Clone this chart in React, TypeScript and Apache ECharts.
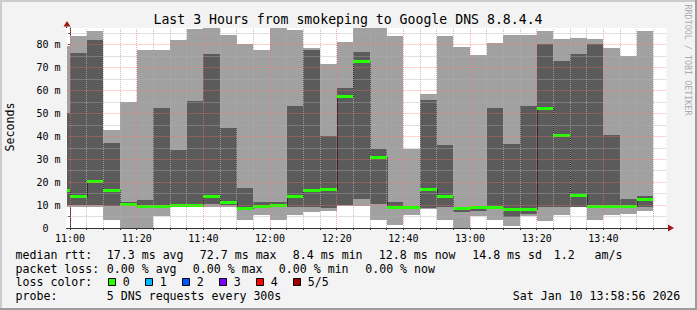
import React, { useEffect, useRef } from "react";
import * as echarts from "echarts";

// ---- data ----
const intervalStart = [
  "10:55", "11:00", "11:05", "11:10", "11:15", "11:20", "11:25", "11:30", "11:35",
  "11:40", "11:45", "11:50", "11:55", "12:00", "12:05", "12:10", "12:15", "12:20",
  "12:25", "12:30", "12:35", "12:40", "12:45", "12:50", "12:55", "13:00", "13:05",
  "13:10", "13:15", "13:20", "13:25", "13:30", "13:35", "13:40", "13:45", "13:50",
];
const pingMin = [
  9.2, 9.0, 9.2, 3.6, 0, 0, 5.1, 9.2, 9.2,
  9.0, 9.0, 3.6, 5.8, 3.6, 5.8, 7.1, 7.4, 9.4,
  9.4, 3.6, 1.4, 5.8, 8.3, 3.6, 0, 5.3, 3.6,
  0.9, 5.3, 3.2, 5.8, 9.1, 3.6, 5.8, 6.2, 7.4,
];
const pingLow = [
  10.2, 10.2, 10.2, 9.7, 9.5, 9.2, 9.2, 9.4, 9.4,
  10.5, 10.0, 8.6, 9.3, 9.0, 9.2, 9.2, 8.7, 10.0,
  12.7, 10.6, 8.7, 8.6, 8.8, 9.2, 7.1, 7.6, 8.5,
  4.6, 6.1, 9.0, 9.0, 9.3, 9.2, 9.2, 9.2, 9.2,
];
const pingHigh = [
  50.2, 76.4, 81.9, 37.1, 11.2, 12.4, 52.4, 34.2, 55.6,
  76.1, 43.6, 17.5, 11.5, 11.2, 53.3, 77.8, 40.0, 61.1,
  76.9, 34.6, 11.2, 9.4, 56.0, 36.4, 9.1, 9.8, 52.4,
  36.8, 53.3, 80.4, 73.0, 76.1, 80.4, 40.7, 12.7, 13.8,
];
const pingMax = [
  79.3, 83.6, 86.1, 42.9, 54.8, 77.8, 77.8, 82.2, 87.0,
  87.3, 84.4, 80.4, 77.8, 87.3, 86.6, 78.5, 71.7, 81.2,
  87.3, 87.3, 83.9, 34.6, 58.6, 83.9, 78.8, 75.3, 80.6,
  84.4, 84.4, 86.1, 82.6, 82.9, 82.5, 78.5, 75.2, 86.1,
];
const medianRtt = [
  16.4, 13.8, 20.6, 16.4, 10.6, 9.8, 9.5, 10.2, 10.2,
  13.8, 11.5, 8.9, 9.7, 10.2, 13.8, 16.6, 17.0, 57.7,
  72.7, 30.8, 9.0, 9.0, 17.1, 13.8, 8.8, 9.0, 9.0,
  8.4, 8.5, 52.3, 40.7, 14.2, 9.7, 9.7, 9.5, 12.8,
];
const stepMinutes = 5;
const windowStart = "10:58:56";
const windowEnd = "13:58:56";
const axisOrigin = "11:00";
const timeTickLabels = ["11:00", "11:20", "11:40", "12:00", "12:20", "12:40", "13:00", "13:20", "13:40"];
const yTickValues = [0, 10, 20, 30, 40, 50, 60, 70, 80];
const yMinorValues = [5, 15, 25, 35, 45, 55, 65, 75, 85];
const yMax = 87.3;

const lossLabels = ["0", "1", "2", "3", "4", "5/5"];
const lossColors = ["#26ff00", "#00b8ff", "#0059ff", "#7e00ff", "#ff0000", "#a10000"];

const titleText = "Last 3 Hours from smokeping to Google DNS 8.8.4.4";
const rttLine = ["median rtt:", "17.3 ms avg", "72.7 ms max", "8.4 ms min", "12.8 ms now", "14.8 ms sd", "1.2", "am/s"];
const lossLine = ["packet loss:", "0.00 % avg", "0.00 % max", "0.00 % min", "0.00 % now"];
const probeLine = ["probe:", "5 DNS requests every 300s"];
const stampText = "Sat Jan 10 13:58:56 2026";

// ---- layout ----
const W = 697;
const H = 310;
const MONO = '"DejaVu Sans Mono", "Liberation Mono", monospace';
const LIGHT = "#a1a1a1";
const DARK = "#5b5b5b";
const rttX = [15.5, 106.8, 199.8, 292.8, 378.8, 472.2, 553.8, 594.5];
const lossX = [15.5, 106.8, 192.8, 278.8, 365.2];
const probeX = [15.5, 106.8];
const boxX = [108.5, 145.5, 182.5, 219.5, 256.5, 293.5];

const toMin = (s: string) => {
  const [h, m, sec] = s.split(":").map(Number);
  const o = axisOrigin.split(":").map(Number);
  return h * 60 + m + (sec || 0) / 60 - (o[0] * 60 + o[1]);
};

export default function App() {
  const ref = useRef<HTMLDivElement>(null);
  useEffect(() => {
    if (!ref.current) return;
    const chart = echarts.init(ref.current, null, { renderer: "svg" });

    const xMin = toMin(windowStart);
    const xMax = toMin(windowEnd);
    const majorX = timeTickLabels.map(toMin);
    const minorX: number[] = [];
    for (let t = 0; t < xMax; t += stepMinutes) if (!majorX.includes(t)) minorX.push(t);

    const data = intervalStart.map((s, i) => [
      toMin(s),
      toMin(s) + stepMinutes,
      pingMin[i],
      pingLow[i],
      pingHigh[i],
      pingMax[i],
      medianRtt[i],
    ]);

    const minorStyle = { color: "rgba(175,175,175,0.75)", width: 1, type: [1, 1] };
    const majorStyle = { color: "rgba(255,110,110,0.6)", width: 1, type: [1, 1] };
    const gridMarks: any[] = [
      ...minorX.map((t) => ({ xAxis: t, lineStyle: minorStyle })),
      ...yMinorValues.map((v) => ({ yAxis: v, lineStyle: minorStyle })),
      ...majorX.map((t) => ({ xAxis: t, lineStyle: majorStyle })),
      ...yTickValues.filter((v) => v > 0).map((v) => ({ yAxis: v, lineStyle: majorStyle })),
    ];

    const renderSmoke = (params: any, api: any) => {
      const cs = params.coordSys;
      const i = params.dataIndex;
      const xs = Math.max(cs.x, api.coord([api.value(0), 0])[0]);
      const xe = Math.min(cs.x + cs.width, api.coord([api.value(1), 0])[0]);
      if (xe <= xs) return null;
      const y = (v: number) => api.coord([api.value(0), v])[1];
      const x0 = Math.round(xs);
      const x1 = Math.round(xe);
      const yMn = Math.round(y(api.value(2)));
      const yLo = Math.round(y(api.value(3)));
      const yHi = Math.round(y(api.value(4)));
      const yMx = Math.round(y(api.value(5)));
      const yMed = Math.round(y(api.value(6))) + 0.5;
      const children: any[] = [
        { type: "rect", shape: { x: x0, y: yLo, width: x1 - x0, height: yMn - yLo }, style: { fill: LIGHT } },
        { type: "rect", shape: { x: x0, y: yHi, width: x1 - x0, height: yLo - yHi }, style: { fill: DARK } },
        { type: "rect", shape: { x: x0, y: yMx, width: x1 - x0, height: yHi - yMx }, style: { fill: LIGHT } },
      ];
      if (i > 0) {
        const yPrev = Math.round(y(medianRtt[i - 1])) + 0.5;
        children.push({
          type: "line",
          shape: { x1: x0 + 0.5, y1: yPrev, x2: x0 + 0.5, y2: yMed },
          style: { stroke: "#000", lineWidth: 1, lineDash: [1, 1] },
        });
      }
      children.push({
        type: "line",
        shape: { x1: x0, y1: yMed, x2: x1, y2: yMed },
        style: { stroke: lossColors[0], lineWidth: 3 },
      });
      return { type: "group", children };
    };

    const txt = (text: string, x: number, y: number, extra: any = {}) => ({
      type: "text",
      x,
      y,
      silent: true,
      style: {
        text,
        fill: "#000",
        font: `11.6px ${MONO}`,
        textAlign: "left",
        textVerticalAlign: "middle",
        ...extra,
      },
    });

    const graphics: any[] = [
      // 3D frame
      { type: "rect", shape: { x: 0, y: 0, width: W, height: 2 }, style: { fill: "#cccccc" }, silent: true },
      { type: "rect", shape: { x: 0, y: 0, width: 2, height: H }, style: { fill: "#cccccc" }, silent: true },
      { type: "rect", shape: { x: W - 2, y: 0, width: 2, height: H }, style: { fill: "#9c9c9c" }, silent: true },
      { type: "rect", shape: { x: 0, y: H - 2, width: W, height: 2 }, style: { fill: "#9c9c9c" }, silent: true },
      // title
      txt(titleText, 348, 19.5, { textAlign: "center", font: `13.2px ${MONO}` }),
      // axis titles
      { type: "text", x: 10, y: 127, rotation: Math.PI / 2, silent: true,
        style: { text: "Seconds", fill: "#000", font: `11.6px ${MONO}`, textAlign: "center", textVerticalAlign: "middle" } },
      { type: "text", x: 687.5, y: 60, rotation: -Math.PI / 2, silent: true,
        style: { text: "RRDTOOL / TOBI OETIKER", fill: "#ababab", font: `8.4px ${MONO}`, textAlign: "center", textVerticalAlign: "middle" } },
      // arrows
      { type: "polygon", silent: true, shape: { points: [[67, 21], [63.5, 26.5], [70.5, 26.5]] }, style: { fill: "#a01818" } },
      { type: "polygon", silent: true, shape: { points: [[674, 228], [668, 224.5], [668, 231.5]] }, style: { fill: "#a01818" } },
      { type: "line", silent: true, shape: { x1: 66.5, y1: 26.5, x2: 66.5, y2: 28 }, style: { stroke: "#333", lineWidth: 1 } },
      { type: "line", silent: true, shape: { x1: 666.5, y1: 228.5, x2: 668, y2: 228.5 }, style: { stroke: "#333", lineWidth: 1 } },
      // legend lines
      ...rttLine.map((s, i) => txt(s, rttX[i], 255)),
      ...lossLine.map((s, i) => txt(s, lossX[i], 268.5)),
      txt("loss color:", 15.5, 282),
      ...lossLabels.map((s, i) => txt(s, boxX[i] + 14.3, 282)),
      ...lossColors.map((c, i) => ({
        type: "rect", silent: true,
        shape: { x: boxX[i], y: 278.5, width: 7, height: 7 },
        style: { fill: c, stroke: "#000", lineWidth: 1 },
      })),
      ...probeLine.map((s, i) => txt(s, probeX[i], 296)),
      txt(stampText, 512.8, 296),
    ];

    const axisFont = { fontFamily: MONO, fontSize: 10, color: "#000" };

    chart.setOption({
      animation: false,
      backgroundColor: "#f3f3f3",
      grid: {
        left: 66.5,
        top: 28,
        width: 600,
        height: 200,
        show: true,
        backgroundColor: "#ffffff",
        borderWidth: 0,
      },
      xAxis: {
        type: "value",
        min: xMin,
        max: xMax,
        axisLine: { show: true, lineStyle: { color: "#333", width: 1 } },
        axisTick: { show: true, length: 2, customValues: [...majorX, ...minorX].sort((a, b) => a - b), lineStyle: { color: "#333" } },
        axisLabel: {
          ...axisFont,
          margin: 5,
          customValues: majorX,
          formatter: (v: number) => {
            const k = majorX.findIndex((t) => Math.abs(t - v) < 1e-6);
            return k >= 0 ? timeTickLabels[k] : "";
          },
        },
        splitLine: { show: false },
      },
      yAxis: {
        type: "value",
        min: 0,
        max: yMax,
        axisLine: { show: true, lineStyle: { color: "#333", width: 1 } },
        axisTick: { show: true, length: 2, customValues: [...yTickValues, ...yMinorValues].sort((a, b) => a - b), lineStyle: { color: "#333" } },
        axisLabel: {
          ...axisFont,
          margin: 6,
          customValues: yTickValues,
          formatter: (v: number) => (v === 0 ? "{z|0}" : `${v} m`),
          rich: { z: { fontFamily: MONO, fontSize: 10, color: "#000", padding: [0, 12, 0, 0] } },
        },
        splitLine: { show: false },
      },
      graphic: graphics,
      series: [
        {
          type: "custom",
          renderItem: renderSmoke,
          data,
          encode: { x: [0, 1], y: [2, 3, 4, 5, 6] },
          clip: false,
          silent: true,
          z: 2,
        },
        {
          type: "line",
          data: [[xMin, 0]],
          symbol: "none",
          lineStyle: { opacity: 0 },
          silent: true,
          z: 4,
          markLine: {
            silent: true,
            symbol: ["none", "none"],
            label: { show: false },
            animation: false,
            z: 4,
            data: gridMarks,
          },
        },
      ],
    });
    return () => chart.dispose();
  }, []);
  return <div ref={ref} style={{ position: "fixed", left: 0, top: 0, width: W, height: H }} />;
}
